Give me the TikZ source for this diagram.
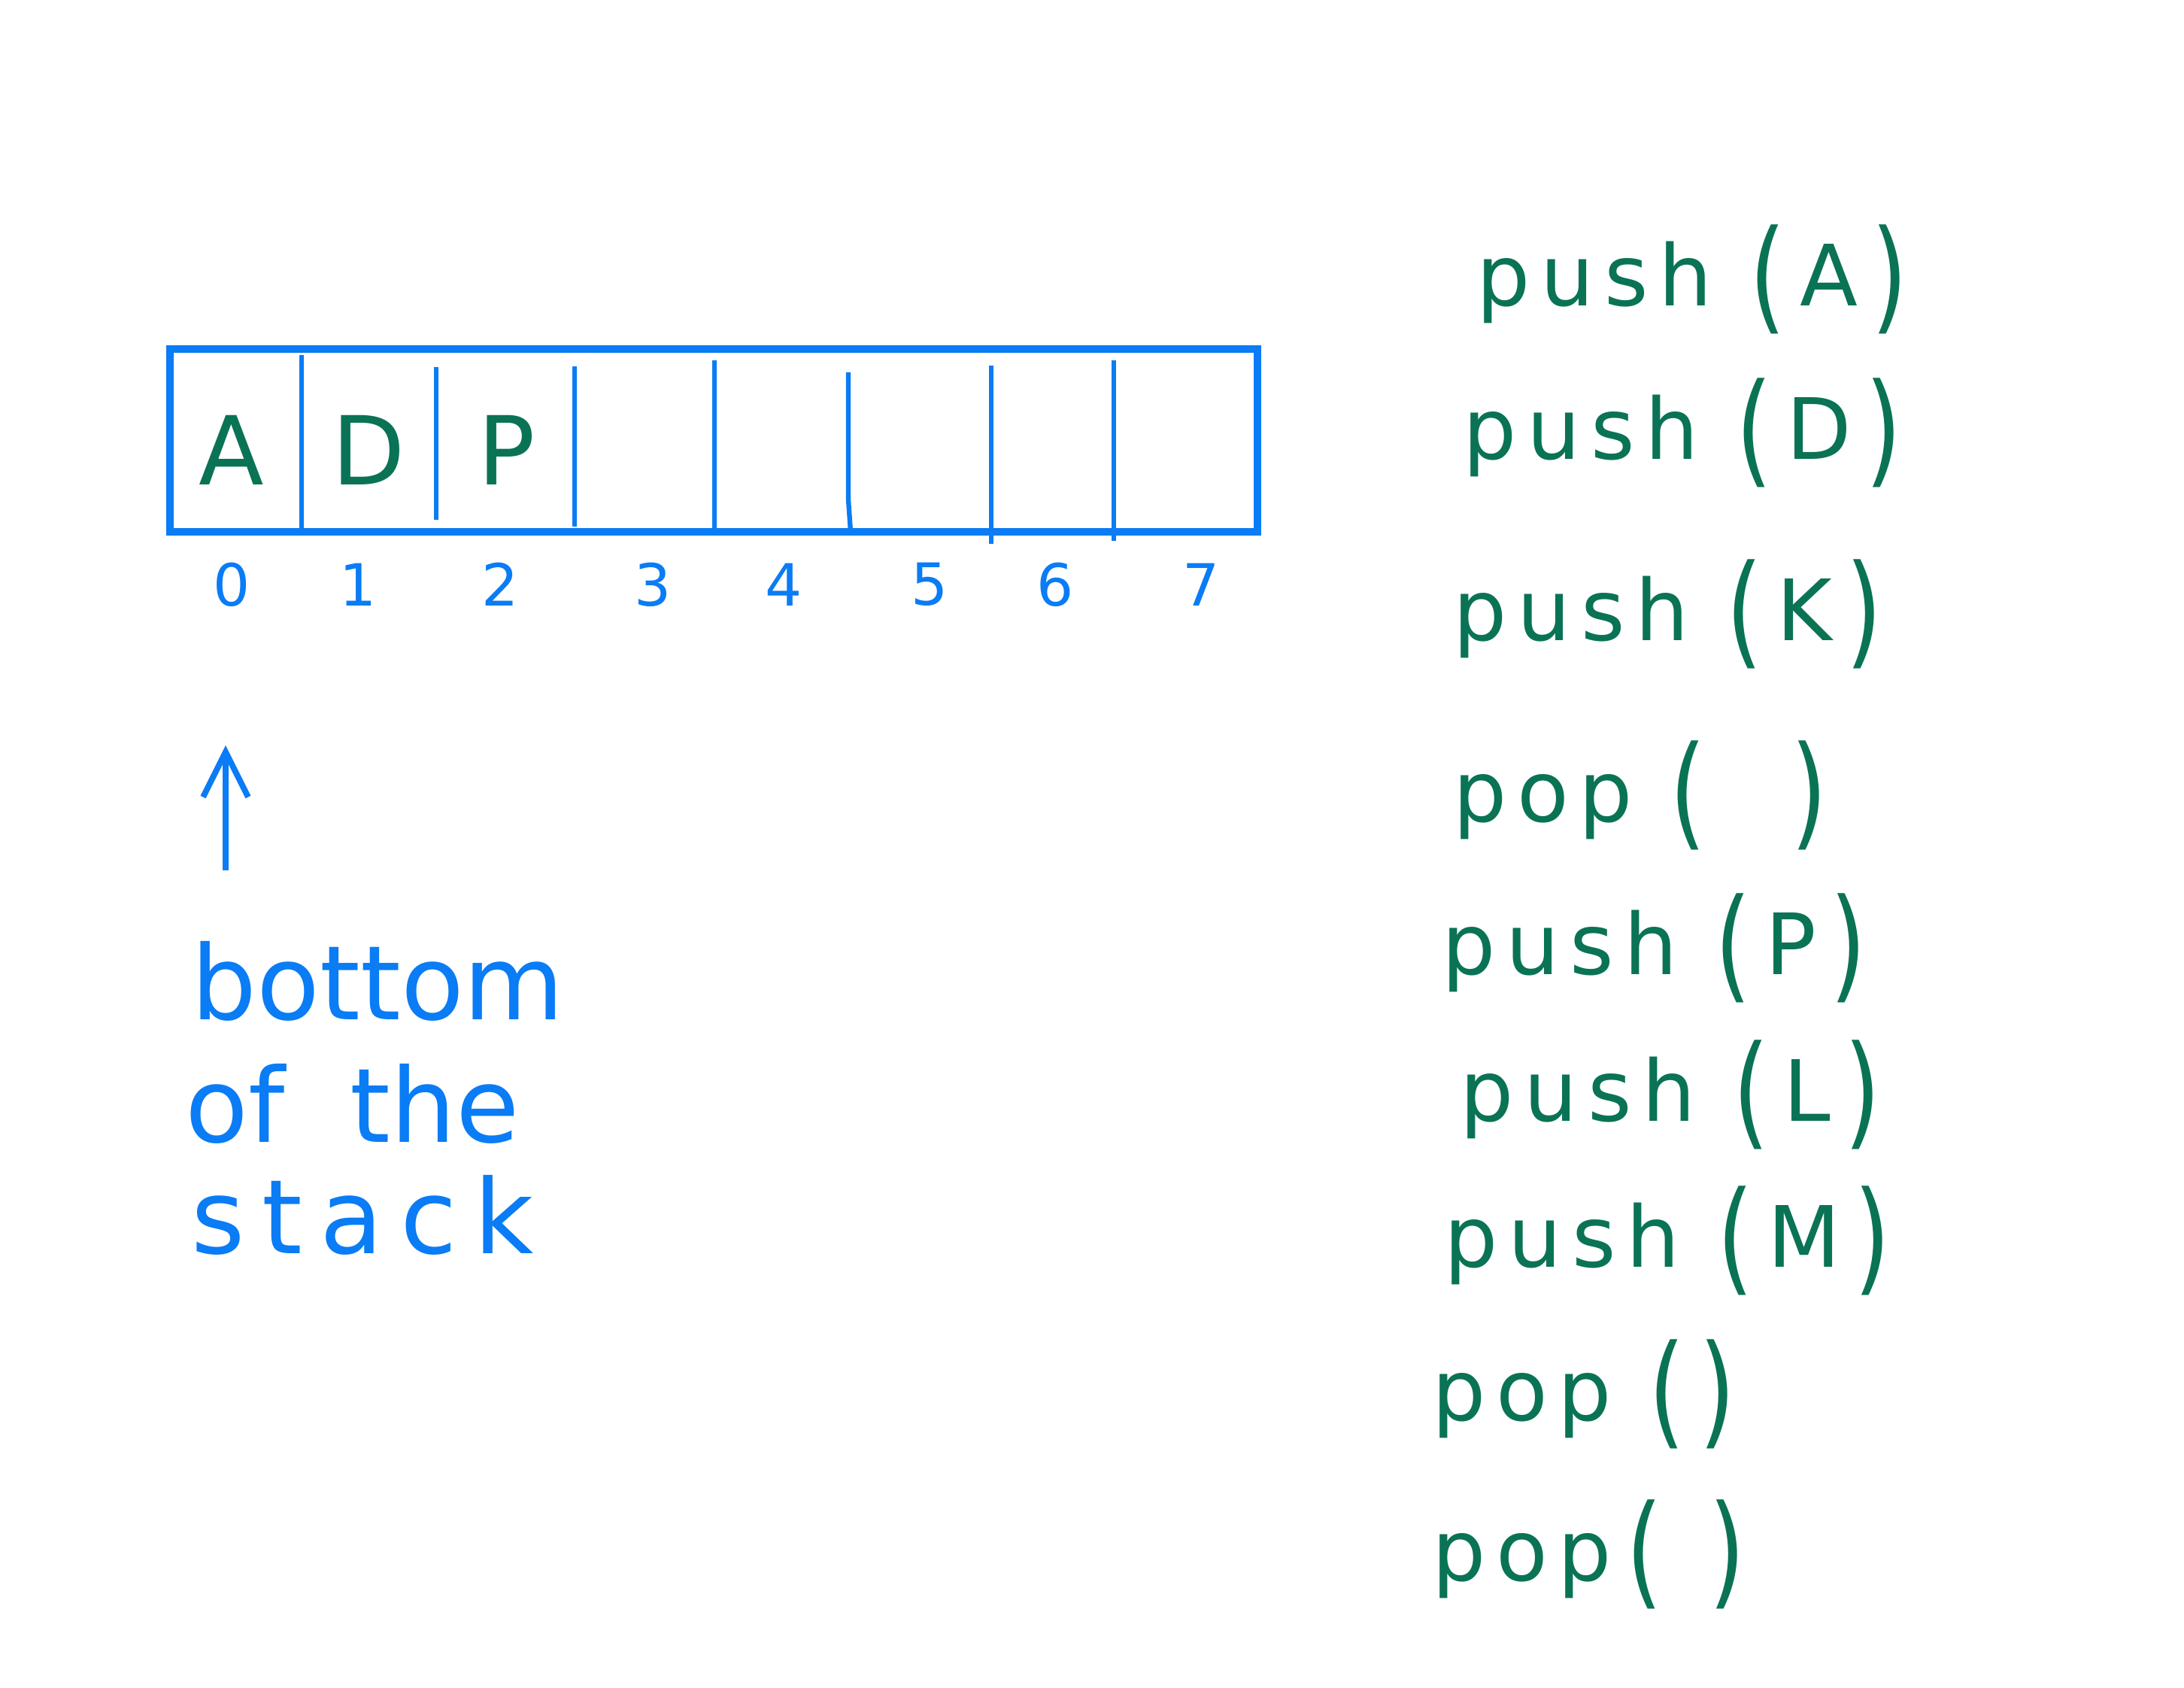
\documentclass[tikz,border=0pt]{standalone}
\usepackage{graphicx}
\usepackage{fontspec}
\newfontfamily\handfont[LetterSpace=12]{DejaVu Sans}
\newfontfamily\notefont{DejaVu Sans}
\usetikzlibrary{positioning,arrows.meta}
\definecolor{penblue}{RGB}{10,124,245}
\definecolor{pengreen}{RGB}{10,115,85}
\newcommand{\tallpar}[1]{\raisebox{-0.14em}{\scalebox{1.1}[1.45]{#1}}}
\tikzset{
  cellbox/.style={draw=penblue,line width=2.6pt},
  divln/.style={draw=penblue,line width=1.8pt},
  item/.style={text=pengreen,font=\notefont\fontsize{36}{40}\selectfont,inner sep=0pt},
  idx/.style={text=penblue,font=\notefont\fontsize{22}{26}\selectfont,inner sep=0pt},
  uparr/.style={draw=penblue,line width=2.2pt,-{Straight Barb[length=6mm,width=6mm,line width=2.2pt]}},
  note/.style={text=penblue,font=\notefont\fontsize{39}{44}\selectfont,anchor=base west,inner sep=0pt},
  opln/.style={text=pengreen,font=\handfont\fontsize{32}{38}\selectfont,anchor=base west,inner sep=0pt},
}
\begin{document}
\begin{tikzpicture}
  \useasboundingbox[fill=white] (0,0) rectangle (29.04,22.44);
  % the array holding the stack
  \draw[cellbox] (2.26,17.80) rectangle (16.72,15.37);
  \draw[divln] (4.01,17.72) -- (4.01,15.37);
  \draw[divln] (5.80,17.56) -- (5.80,15.53);
  \draw[divln] (7.64,17.57) -- (7.64,15.44);
  \draw[divln] (9.50,17.65) -- (9.50,15.37);
  \draw[divln] (11.28,17.49) -- (11.28,15.80) -- (11.31,15.37);
  \draw[divln] (13.18,17.58) -- (13.18,15.21);
  \draw[divln] (14.81,17.65) -- (14.81,15.25);
  \node[item] (itemA) at (3.08,16.46) {A};
  \node[item] (itemD) at (4.90,16.46) {D};
  \node[item] (itemP) at (6.74,16.46) {P};
  % indices
  \foreach \i/\x in {0/3.08,1/4.76,2/6.65,3/8.68,4/10.42,5/12.36,6/14.03,7/15.97}
    \node[idx] (idx\i) at (\x,14.67) {\i};
  % bottom marker
  \coordinate (arrfoot) at (3.00,10.87);
  \coordinate (arrtip) at (3.00,12.53);
  \draw[uparr] (arrfoot) -- (arrtip);
  \node[note] (noteA) at (2.54,8.88) {bottom};
  \node[note] (noteB) at (2.46,7.25) {of\ \ the};
  \node[note] (noteC) at (2.54,5.77) {s\,t\,a\,c\,k};
  % operations
  \node[opln] (op1) at (19.63,18.37) {push \tallpar{(}\,A\,\tallpar{)}};
  \node[opln] (op2) at (19.45,16.33) {push \tallpar{(}\,D\,\tallpar{)}};
  \node[opln] (op3) at (19.32,13.92) {push \tallpar{(}\,K\,\tallpar{)}};
  \node[opln] (op4) at (19.32,11.51) {pop \tallpar{(}\quad\tallpar{)}};
  \node[opln] (op5) at (19.17,9.48) {push \tallpar{(}\,P\,\tallpar{)}};
  \node[opln] (op6) at (19.41,7.53) {push \tallpar{(}\,L\,\tallpar{)}};
  \node[opln] (op7) at (19.20,5.59) {push \tallpar{(}\,M\,\tallpar{)}};
  \node[opln] (op8) at (19.04,3.55) {pop \tallpar{(}\,\tallpar{)}};
  \node[opln] (op9) at (19.04,1.42) {pop\,\tallpar{(}\;\;\tallpar{)}};
\end{tikzpicture}
\end{document}
